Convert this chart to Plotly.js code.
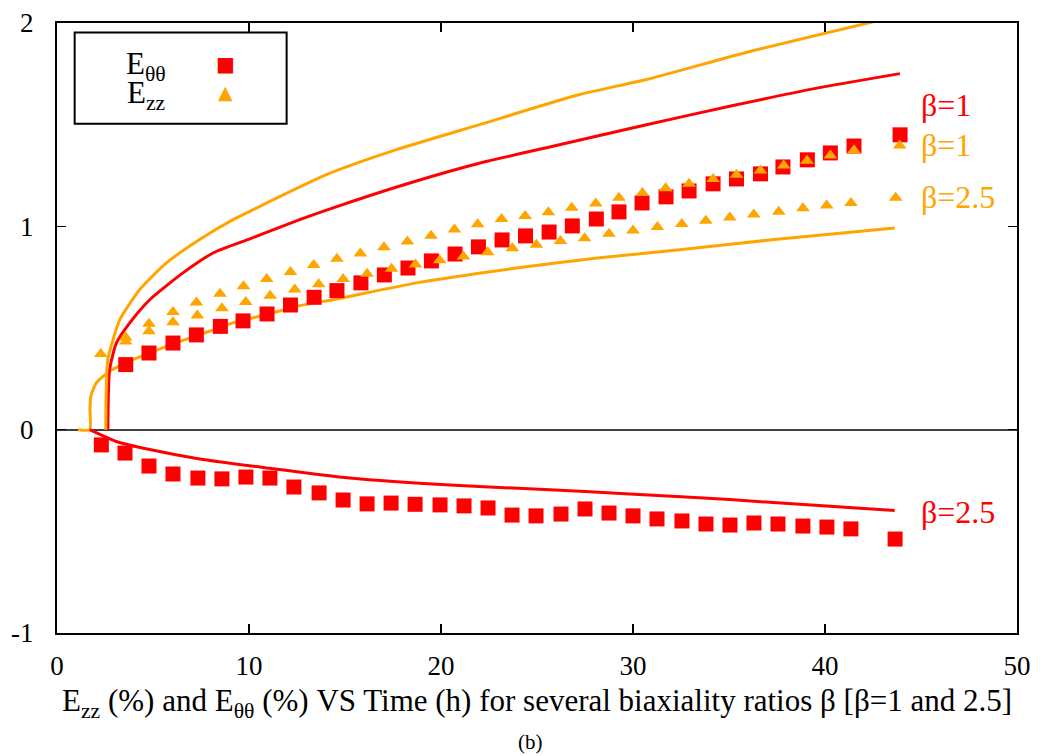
<!DOCTYPE html>
<html>
<head>
<meta charset="utf-8">
<script src="https://cdn.plot.ly/plotly-3.0.1.min.js"></script>
<style>html,body{margin:0;padding:0;background:#fff;}#chart{width:1040px;height:756px;}</style>
</head>
<body>
<div id="chart"></div>
<script>
// ---- Data ----
// E_theta-theta, beta = 1 (squares)
const ettB1_x = [3.58,4.79,6.04,7.26,8.51,9.69,10.94,12.16,13.39,14.58,15.83,17.05,18.28,19.50,20.73,21.95,23.18,24.40,25.63,26.84,28.09,29.27,30.47,31.72,32.92,34.17,35.39,36.64,37.81,39.08,40.28,41.51,43.91];
const ettB1_y = [0.320,0.377,0.426,0.466,0.508,0.535,0.569,0.613,0.651,0.684,0.722,0.761,0.795,0.830,0.864,0.899,0.933,0.953,0.972,1.002,1.036,1.071,1.115,1.145,1.174,1.209,1.233,1.258,1.292,1.327,1.361,1.395,1.450];
// E_theta-theta, beta = 2.5 (squares)
const ettB25_x = [2.31,3.54,4.79,6.04,7.34,8.59,9.84,11.09,12.34,13.65,14.90,16.15,17.40,18.65,19.95,21.20,22.45,23.70,24.95,26.25,27.50,28.75,30.00,31.25,32.55,33.80,35.05,36.30,37.55,38.85,40.10,41.35,43.65];
const ettB25_y = [-0.075,-0.115,-0.179,-0.218,-0.238,-0.242,-0.233,-0.238,-0.282,-0.311,-0.346,-0.365,-0.361,-0.367,-0.370,-0.375,-0.385,-0.420,-0.424,-0.415,-0.390,-0.410,-0.424,-0.439,-0.449,-0.464,-0.469,-0.459,-0.464,-0.474,-0.479,-0.488,-0.538];
// E_zz, beta = 1 (triangles)
const ezzB1_x = [3.58,4.79,6.04,7.26,8.49,9.71,10.92,12.16,13.37,14.58,15.80,17.03,18.25,19.48,20.70,21.91,23.15,24.38,25.59,26.81,28.06,29.27,30.49,31.70,32.92,34.17,35.39,36.64,37.85,39.06,40.28,41.51,43.89];
const ezzB1_y = [0.453,0.521,0.579,0.626,0.669,0.705,0.741,0.775,0.810,0.840,0.867,0.897,0.926,0.954,0.984,1.010,1.036,1.051,1.069,1.091,1.112,1.140,1.164,1.187,1.210,1.233,1.254,1.274,1.299,1.323,1.348,1.374,1.398];
// E_zz, beta = 2.5 (triangles)
const ezzB25_x = [2.28,3.58,4.79,6.04,7.31,8.59,9.83,11.10,12.38,13.63,14.90,16.15,17.42,18.67,19.93,21.17,22.43,23.72,24.97,26.22,27.48,28.75,30.00,31.27,32.54,33.79,35.04,36.29,37.59,38.85,40.09,41.35,43.68];
const ezzB25_y = [0.372,0.433,0.484,0.528,0.562,0.597,0.628,0.658,0.689,0.715,0.741,0.767,0.792,0.812,0.833,0.852,0.872,0.892,0.909,0.928,0.942,0.963,0.979,0.997,1.012,1.027,1.044,1.058,1.072,1.089,1.103,1.115,1.140];

// Model curves
const modEttB1_x = [2.65,2.67,2.74,3.09,3.79,4.83,6.56,8.13,10.04,10.91,12.64,14.38,18.37,22.19,25.66,30.70,35.21,39.38,43.90];
const modEttB1_y = [0,0.148,0.295,0.426,0.525,0.639,0.771,0.869,0.938,0.970,1.033,1.091,1.213,1.315,1.390,1.500,1.594,1.676,1.751];
const modEzzB1_x = [2.54,2.56,2.64,2.92,3.27,4.31,5.70,7.43,9.17,10.04,14.03,17.68,22.0,27.22,30.70,35.9,42.56];
const modEzzB1_y = [0,0.172,0.344,0.443,0.541,0.689,0.820,0.935,1.033,1.074,1.254,1.377,1.500,1.648,1.722,1.855,2.007];
const modEzzB25_x = [1.09,1.70,1.72,1.76,2.05,2.74,3.96,5.70,7.43,9.17,10.91,12.64,14.38,18.72,23.93,28.27,32.43,37.64,43.63];
const modEzzB25_y = [0,0,0.100,0.164,0.230,0.287,0.344,0.410,0.467,0.525,0.566,0.610,0.639,0.722,0.795,0.845,0.885,0.938,0.992];
const modEttB25_x = [1.70,3.09,4.83,7.43,10.91,15.24,20.97,25.66,29.83,35.04,43.63];
const modEttB25_y = [0,-0.058,-0.098,-0.144,-0.188,-0.238,-0.275,-0.295,-0.316,-0.344,-0.398];

const xTicks = [0,10,20,30,40,50];
const yTicks = [-1,0,1,2];

const RED = '#ff0000';
const ORANGE = '#ffa500';
const FONT = 'Liberation Serif, serif';

function line(x, y, color) {
  return {x: x, y: y, type: 'scatter', mode: 'lines', line: {color: color, width: 3, shape: 'spline', smoothing: 0.6}, showlegend: false, hoverinfo: 'skip'};
}
function pts(x, y, color, symbol, size) {
  return {x: x, y: y, type: 'scatter', mode: 'markers', marker: {color: color, symbol: symbol, size: size, line: {width: 0}}, showlegend: false};
}

const data = [
  line(modEzzB25_x, modEzzB25_y, ORANGE),
  line(modEttB25_x, modEttB25_y, RED),
  line(modEttB1_x, modEttB1_y, RED),
  line(modEzzB1_x, modEzzB1_y, ORANGE),
  pts(ettB1_x, ettB1_y, RED, 'square', 15),
  pts(ettB25_x, ettB25_y, RED, 'square', 15),
  pts(ezzB1_x, ezzB1_y, ORANGE, 'triangle-up', 12),
  pts(ezzB25_x, ezzB25_y, ORANGE, 'triangle-up', 12)
];

const layout = {
  width: 1040, height: 756,
  margin: {l: 57, r: 23, t: 23, b: 123},
  paper_bgcolor: '#fff', plot_bgcolor: '#fff',
  font: {family: FONT, color: '#000', size: 27},
  showlegend: false,
  xaxis: {
    range: [0, 50], tickvals: xTicks, ticktext: xTicks.map(String),
    showgrid: false, zeroline: false,
    showline: true, linecolor: '#000', linewidth: 2, mirror: 'ticks',
    ticks: 'inside', ticklen: 9, tickwidth: 1.5, tickcolor: '#000',
    tickfont: {family: FONT, size: 27, color: '#000'}, ticklabelstandoff: 8,
    title: {text: 'E<sub>zz</sub> (%) and E<sub>θθ</sub> (%) VS Time (h) for several biaxiality ratios β [β=1 and 2.5]', font: {family: FONT, size: 31, color: '#000'}, standoff: 9}
  },
  yaxis: {
    range: [-1, 2], tickvals: yTicks, ticktext: yTicks.map(String),
    showgrid: false, zeroline: true, zerolinecolor: '#404040', zerolinewidth: 2,
    showline: true, linecolor: '#000', linewidth: 2, mirror: 'ticks',
    ticks: 'inside', ticklen: 9, tickwidth: 1.5, tickcolor: '#000',
    tickfont: {family: FONT, size: 27, color: '#000'}, ticklabelstandoff: 16
  },
  shapes: [
    {type: 'rect', xref: 'x', yref: 'y', x0: 0.92, x1: 11.96, y0: 1.505, y1: 1.953, line: {color: '#000', width: 2}, fillcolor: '#fff', layer: 'above'}
  ],
  annotations: [
    {xref: 'x', yref: 'y', x: 5.80, y: 1.79, text: 'E<sub>θθ</sub>', showarrow: false, xanchor: 'right', yanchor: 'middle', font: {family: FONT, size: 31, color: '#000'}},
    {xref: 'x', yref: 'y', x: 5.80, y: 1.645, text: 'E<sub>zz</sub>', showarrow: false, xanchor: 'right', yanchor: 'middle', font: {family: FONT, size: 31, color: '#000'}},
    {xref: 'x', yref: 'y', x: 8.80, y: 1.80, text: '■', showarrow: false, xanchor: 'center', yanchor: 'middle', font: {family: 'DejaVu Sans', size: 20, color: RED}},
    {xref: 'x', yref: 'y', x: 8.80, y: 1.663, text: '▲', showarrow: false, xanchor: 'center', yanchor: 'middle', font: {family: 'DejaVu Sans', size: 19, color: ORANGE}},
    {xref: 'x', yref: 'y', x: 44.88, y: (430-105)/203.3, text: 'β=1', showarrow: false, xanchor: 'left', yanchor: 'middle', font: {family: FONT, size: 32, color: RED}},
    {xref: 'x', yref: 'y', x: 44.88, y: (430-145)/203.3, text: 'β=1', showarrow: false, xanchor: 'left', yanchor: 'middle', font: {family: FONT, size: 32, color: ORANGE}},
    {xref: 'x', yref: 'y', x: 44.88, y: (430-197)/203.3, text: 'β=2.5', showarrow: false, xanchor: 'left', yanchor: 'middle', font: {family: FONT, size: 32, color: ORANGE}},
    {xref: 'x', yref: 'y', x: 44.88, y: (430-512)/203.3, text: 'β=2.5', showarrow: false, xanchor: 'left', yanchor: 'middle', font: {family: FONT, size: 32, color: RED}},
    {xref: 'paper', yref: 'paper', x: 0.493, y: -0.178, text: '(b)', showarrow: false, xanchor: 'center', yanchor: 'middle', font: {family: FONT, size: 21, color: '#000'}}
  ]
};

Plotly.newPlot('chart', data, layout, {staticPlot: true, displayModeBar: false});
</script>
</body>
</html>
